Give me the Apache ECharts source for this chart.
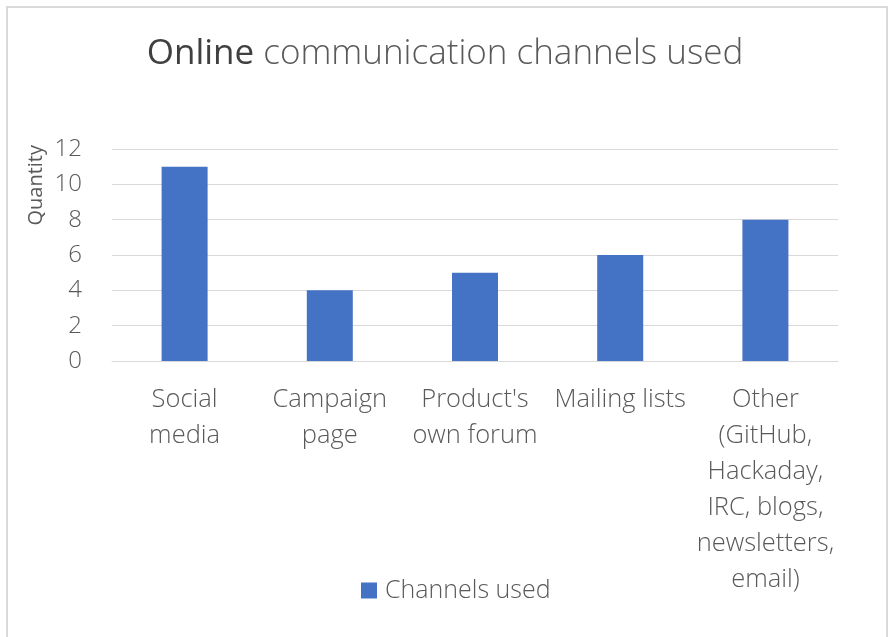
<!DOCTYPE html>
<html><head><meta charset="utf-8">
<script src="https://cdn.jsdelivr.net/npm/echarts@6/dist/echarts.min.js"></script>
<style>
html,body{margin:0;padding:0;background:#fff;}
#frame{position:absolute;left:6px;top:6px;width:882px;height:640px;border:2px solid #d9d9d9;box-sizing:border-box;}
#main{position:absolute;left:0;top:0;width:890px;height:637px;}
</style></head>
<body>
<div id="frame"></div>
<div id="main"></div>
<script>
const categories = ["Social\nmedia", "Campaign\npage", "Product's\nown forum", "Mailing lists", "Other\n(GitHub,\nHackaday,\nIRC, blogs,\nnewsletters,\nemail)"];
const channelsUsed = [11, 4, 5, 6, 8];
const yTicks = [0, 2, 4, 6, 8, 10, 12];
const seriesName = "Channels used";

const font = "'Open Sans', 'Noto Sans', sans-serif";
const chart = echarts.init(document.getElementById('main'), null, {renderer: 'canvas'});
chart.setOption({
  backgroundColor: 'transparent',
  animation: false,
  textStyle: {fontFamily: font},
  title: {
    text: '{b|Online} communication channels used',
    left: 'center', top: 32,
    textStyle: {
      fontFamily: font, fontSize: 35, fontWeight: 300, color: '#595959',
      rich: {b: {fontFamily: font, fontSize: 35, fontWeight: 400, color: '#404040'}}
    }
  },
  grid: {left: 112, right: 52, top: 149, bottom: 276},
  legend: {
    bottom: 29, left: 356,
    itemWidth: 16, itemHeight: 16, itemGap: 8,
    icon: 'rect',
    textStyle: {fontFamily: font, fontSize: 25, fontWeight: 300, color: '#595959', padding: [0, 0, 0, 3]},
    data: [seriesName]
  },
  xAxis: {
    type: 'category', data: categories,
    axisLine: {show: true, lineStyle: {color: '#d9d9d9', width: 1}},
    axisTick: {show: false},
    axisLabel: {interval: 0, margin: 21, fontFamily: font, fontSize: 25.5, fontWeight: 300, color: '#595959', lineHeight: 36}
  },
  yAxis: {
    type: 'value', min: 0, max: 12, interval: 2,
    name: 'Quantity', nameLocation: 'end', nameRotate: 90,
    nameGap: 4,
    nameTextStyle: {fontFamily: font, fontSize: 20, color: '#595959', align: 'right', verticalAlign: 'bottom', padding: [0, 0, 66, 0]},
    axisLine: {show: false}, axisTick: {show: false},
    splitLine: {lineStyle: {color: '#d9d9d9', width: 1}},
    axisLabel: {margin: 30, fontFamily: font, fontSize: 24, fontWeight: 300, color: '#595959',
      formatter: v => yTicks.includes(v) ? String(v) : ''}
  },
  series: [{
    name: seriesName, type: 'bar', data: channelsUsed,
    barWidth: 46, itemStyle: {color: '#4472C4'}
  }]
});
</script>
</body></html>
